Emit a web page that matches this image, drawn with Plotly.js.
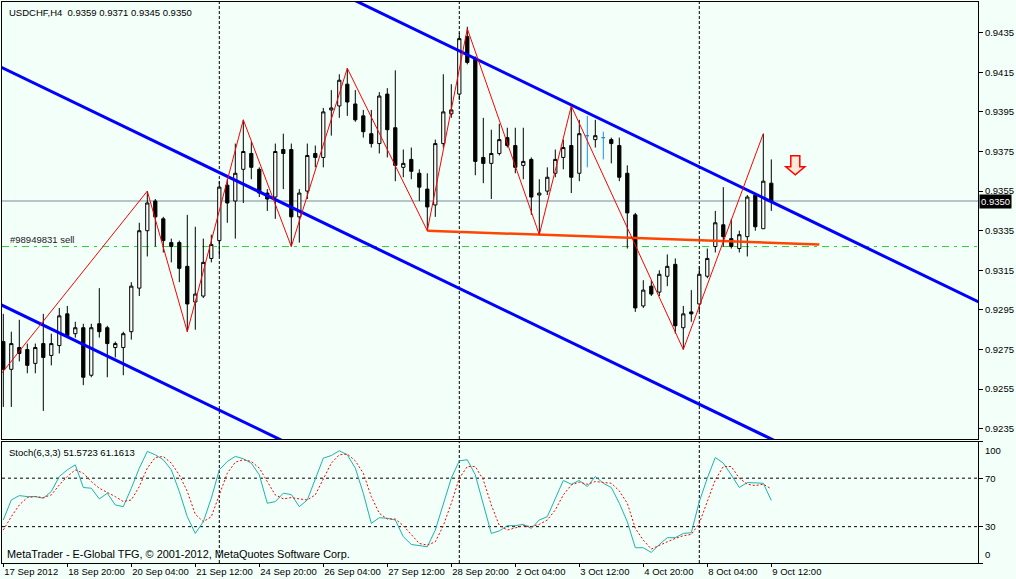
<!DOCTYPE html>
<html><head><meta charset="utf-8">
<script src="https://cdn.plot.ly/plotly-3.0.1.min.js"></script>
<style>html,body{margin:0;padding:0;background:#F3FFF9;}#chart{width:1016px;height:579px;}</style>
</head><body><div id="chart"></div>
<script>
// ---- data ----
const symbol = "USDCHF,H4";
const openP = [.9279,.9265,.9276,.9275,.9268,.9278,.9272,.9277,.9293,.9283,
 .9286,.9262,.9288,.9286,.9276,.9276,.9284,.9306,.9335,.9350,
 .9341,.9329,.9329,.9317,.9299,.9302,.9321,.9330,.9358,.9350,
 .9366,.9374,.9366,.9354,.9352,.9376,.9376,.9342,.9355,.9374,
 .9372,.9396,.9398,.9409,.9399,.9393,.9384,.9379,.9404,.9387,
 .9367,.9371,.9364,.9356,.9348,.9379,.9394,.9404,.9433,.9422,
 .9372,.9369,.9374,.9382,.9378,.9368,.9371,.9353,.9355,.9364,
 .9372,.9378,.9364,.9383,.9381,.9382,.9381,.9378,.9364,.9343,
 .9297,.9307,.9304,.9312,.9318,.9286,.9294,.9298,.9312,.9327,
 .9338,.9331,.9326,.9332,.9353,.9336,.9359];
const highP = [.9293,.9284,.9290,.9278,.9278,.9293,.9283,.9296,.9297,.9289,
 .9288,.9288,.9306,.9287,.9279,.9284,.9309,.9339,.9355,.9351,
 .9342,.9331,.9330,.9343,.9337,.9331,.9333,.9360,.9361,.9379,
 .9391,.9380,.9367,.9356,.9379,.9384,.9379,.9356,.9379,.9378,
 .9397,.9406,.9414,.9417,.9406,.9396,.9396,.9405,.9407,.9416,
 .9376,.9377,.9366,.9364,.9381,.9414,.9409,.9435,.9438,.9423,
 .9392,.9386,.9389,.9387,.9387,.9387,.9372,.9361,.9367,.9376,
 .9381,.9398,.9391,.9393,.9391,.9385,.9382,.9382,.9368,.9344,
 .9310,.9310,.9315,.9323,.9321,.9297,.9305,.9317,.9326,.9345,
 .9357,.9341,.9335,.9353,.9354,.9384,.9371];
const lowP = [.9246,.9246,.9269,.9263,.9263,.9244,.9267,.9273,.9281,.9281,
 .9257,.9261,.9281,.9261,.9271,.9262,.9280,.9302,.9322,.9327,
 .9324,.9319,.9309,.9284,.9285,.9301,.9319,.9322,.9339,.9331,
 .9349,.9361,.9352,.9345,.9341,.9356,.9327,.9329,.9351,.9367,
 .9367,.9383,.9392,.9393,.9390,.9382,.9377,.9374,.9372,.9360,
 .9362,.9361,.9350,.9335,.9342,.9377,.9392,.9401,.9419,.9363,
 .9359,.9351,.9373,.9377,.9364,.9361,.9343,.9333,.9353,.9362,
 .9366,.9354,.9360,.9367,.9377,.9371,.9369,.9360,.9326,.9294,
 .9296,.9302,.9302,.9307,.9283,.9275,.9289,.9294,.9311,.9324,
 .9327,.9326,.9324,.9322,.9335,.9336,.9345];
const closeP = [.9265,.9278,.9273,.9267,.9276,.9271,.9278,.9292,.9282,.9286,
 .9261,.9286,.9284,.9278,.9278,.9283,.9307,.9335,.9349,.9342,
 .9330,.9327,.9316,.9298,.9303,.9319,.9328,.9357,.9349,.9364,
 .9375,.9367,.9354,.9351,.9375,.9374,.9342,.9354,.9373,.9372,
 .9395,.9397,.9411,.9400,.9391,.9385,.9379,.9403,.9386,.9368,
 .9369,.9365,.9357,.9347,.9379,.9395,.9396,.9432,.9420,.9370,
 .9369,.9374,.9381,.9378,.9367,.9370,.9352,.9354,.9362,.9371,
 .9377,.9362,.9384,.9383,.9383,.9382,.9379,.9362,.9344,.9296,
 .9305,.9303,.9313,.9317,.9287,.9293,.9293,.9313,.9321,.9339,
 .9332,.9327,.9333,.9352,.9337,.9360,.9350];
const stochK = [35.5,52,55.6,54.8,54.8,53.4,59,71.4,76.9,81,
 62.3,61.7,52.9,57.6,47.9,46.5,61.7,78.3,92.1,89.3,
 85.2,76.9,59,38.2,24.4,34.1,53.4,76.9,83.8,88,
 86,82.4,72.7,49.3,50.7,57.6,56.5,46.5,52,70,
 86.5,88.7,92.6,89.3,78.3,57.6,32.7,37.4,36.9,35.5,
 21.7,15.3,14.2,13.4,27.2,47.9,70,84.3,85.2,72.7,
 47.9,24.4,26.5,30.8,30.8,31.9,28.6,35.5,38.2,53.4,
 68.1,65,68.1,63.1,71.4,65.8,62.3,49.3,34.1,12.6,
 12.6,8.7,15.3,20.9,20.9,24.4,25,50.7,70,87.1,
 82.4,72.7,62.3,66.4,65.8,65.8,51.5723];
const stochD = [27.2,38.2,47.9,54,54.8,54,56.2,64.4,71.4,76.9,
 74.1,67.2,61.7,58.4,54.8,50.7,52,63.1,78.3,87.1,
 87.9,82.4,72.7,59,40.2,34.1,38.2,56.2,74.1,83.2,
 85.2,83.8,78.3,67.2,56.2,52.9,54,52.9,52,56.2,
 70,82.4,89.3,89.9,84.3,74.1,54.8,41,36.3,36.3,
 30.8,23.1,16.1,14.8,17.5,30.8,49.3,70,79.6,79.6,
 68.6,47.9,31,27.2,29.1,30.8,30,31.9,35.5,43.8,
 56.2,64.4,66.7,65,67.2,66.4,65.8,59.5,49.3,28.6,
 18.9,11.5,14.8,17.5,20.3,22.5,23.6,32.7,50.7,68.6,
 79.6,79.6,70,65,63.9,65,61.1613];
const stochLabel = "Stoch(6,3,3) 51.5723 61.1613";
const tickIdx = [0,8,16,24,32,40,48,56,64,72,80,88,96];
const tickText = ["17 Sep 2012","18 Sep 20:00","20 Sep 04:00","21 Sep 12:00","24 Sep 20:00","26 Sep 04:00","27 Sep 12:00","28 Sep 20:00","2 Oct 04:00","3 Oct 12:00","4 Oct 20:00","8 Oct 04:00","9 Oct 12:00"];
const weekSeparators = [27,57,87];
const priceTicks = [0.9235,0.9255,0.9275,0.9295,0.9315,0.9335,0.9355,0.9375,0.9395,0.9415,0.9435];
const stochTicks = [100,70,30,0];
const stochLevels = [70,30];
const zigzagX = [-1,18,23,30,36,43,53,58,67,71,85,95];
const zigzagY = [0.9259,0.9355,0.9284,0.9391,0.9327,0.9417,0.9335,0.9437,0.9333,0.9398,0.9275,0.9384];
const channelX = [[-1,100],[40,125],[-1,40]];
const channelY = [[0.9419,0.9222],[0.9459,0.9293],[0.9299,0.9219]];
const supportX = [53,102];
const supportY = [0.9335,0.9328];
const orderLabel = "#98949831 sell";
const orderPrice = 0.9327;
const signalX = [99];
const signalY = [0.9368];
const copyright = "MetaTrader - E-Global TFG, \u00A9 2001-2012, MetaQuotes Software Corp.";

// ---- build ----
const FONT = "Tahoma, 'Liberation Sans', Arial, sans-serif";
const BG = "#F3FFF9";
const n = openP.length;
const idx = openP.map((_, i) => i);
const normal = idx.filter(i => openP[i] !== closeP[i]);
const doji = idx.filter(i => openP[i] === closeP[i]);
const pick = (arr, ids) => ids.map(i => arr[i]);
const last = n - 1;
const fmt = v => v.toFixed(4);

const traces = [];
traces.push({
  type: 'candlestick', xaxis: 'x2', yaxis: 'y',
  x: normal, open: pick(openP, normal), high: pick(highP, normal), low: pick(lowP, normal), close: pick(closeP, normal),
  increasing: {line: {color: '#000000', width: 1}, fillcolor: '#FFFFFF'},
  decreasing: {line: {color: '#000000', width: 1}, fillcolor: '#000000'},
  whiskerwidth: 0, hoverinfo: 'skip', showlegend: false
});
traces.push({
  type: 'candlestick', xaxis: 'x2', yaxis: 'y',
  x: doji, open: pick(openP, doji), high: pick(highP, doji), low: pick(lowP, doji), close: pick(closeP, doji),
  increasing: {line: {color: '#1E8FD8', width: 1}, fillcolor: '#1E8FD8'},
  decreasing: {line: {color: '#1E8FD8', width: 1}, fillcolor: '#1E8FD8'},
  whiskerwidth: 0, hoverinfo: 'skip', showlegend: false
});
channelX.forEach((cx, j) => traces.push({
  type: 'scatter', mode: 'lines', xaxis: 'x2', yaxis: 'y', x: cx, y: channelY[j],
  line: {color: '#0000FF', width: 3}, hoverinfo: 'skip', showlegend: false
}));
traces.push({
  type: 'scatter', mode: 'lines', xaxis: 'x2', yaxis: 'y', x: supportX, y: supportY,
  line: {color: '#FF4500', width: 2.5}, hoverinfo: 'skip', showlegend: false
});
traces.push({
  type: 'scatter', mode: 'lines', xaxis: 'x2', yaxis: 'y', x: zigzagX, y: zigzagY,
  line: {color: '#FF0000', width: 1}, hoverinfo: 'skip', showlegend: false
});
traces.push({
  type: 'scatter', mode: 'lines', xaxis: 'x', yaxis: 'y2', x: idx, y: stochK,
  line: {color: '#20B2AA', width: 1}, hoverinfo: 'skip', showlegend: false
});
traces.push({
  type: 'scatter', mode: 'lines', xaxis: 'x', yaxis: 'y2', x: idx, y: stochD,
  line: {color: '#FF0000', width: 1, dash: '2px,2px'}, hoverinfo: 'skip', showlegend: false
});

const shapes = [];
weekSeparators.forEach(s => {
  shapes.push({type: 'line', xref: 'x2', yref: 'y domain', x0: s, x1: s, y0: 0, y1: 1, line: {color: '#000', width: 1, dash: '3px,2px'}, layer: 'below'});
  shapes.push({type: 'line', xref: 'x', yref: 'y2 domain', x0: s, x1: s, y0: 0, y1: 1, line: {color: '#000', width: 1, dash: '3px,2px'}, layer: 'below'});
});
stochLevels.forEach(l => shapes.push({type: 'line', xref: 'paper', yref: 'y2', x0: 0, x1: 1, y0: l, y1: l, line: {color: '#000', width: 1, dash: '3px,3px'}, layer: 'below'}));
shapes.push({type: 'line', xref: 'paper', yref: 'y', x0: 0, x1: 1, y0: closeP[last], y1: closeP[last], line: {color: '#7B8B9B', width: 1}, layer: 'below'});
shapes.push({type: 'line', xref: 'paper', yref: 'y', x0: 0, x1: 1, y0: orderPrice, y1: orderPrice, line: {color: '#32CD32', width: 1, dash: '7px,5px,3px,5px'}, layer: 'below'});
signalX.forEach((sx, j) => shapes.push({
  type: 'path', xref: 'x2', yref: 'y', xsizemode: 'pixel', ysizemode: 'pixel', xanchor: sx, yanchor: signalY[j],
  path: 'M-4.5,9.5 L4.5,9.5 L4.5,-1.5 L9.5,-1.5 L0,-9.5 L-9.5,-1.5 L-4.5,-1.5 Z',
  line: {color: '#FF0000', width: 1.5}, fillcolor: 'rgba(255,225,200,0.7)'
}));

const tf = {family: FONT, size: 9.5, color: '#000'};
const annotations = [
  {xref: 'paper', yref: 'paper', x: 0, y: 1, xanchor: 'left', yanchor: 'top', xshift: 5, yshift: -3, showarrow: false,
   text: symbol + '\u00A0\u00A0' + [openP[last], highP[last], lowP[last], closeP[last]].map(fmt).join(' '), font: tf},
  {xref: 'paper', yref: 'y2 domain', x: 0, y: 1, xanchor: 'left', yanchor: 'top', xshift: 5, yshift: -3, showarrow: false, text: stochLabel, font: tf},
  {xref: 'paper', yref: 'y2 domain', x: 0, y: 0, xanchor: 'left', yanchor: 'bottom', xshift: 3, yshift: 1, showarrow: false, text: copyright, font: {family: FONT, size: 10.9, color: '#000'}},
  {xref: 'paper', yref: 'y', x: 0, y: orderPrice, xanchor: 'left', yanchor: 'bottom', xshift: 6, yshift: 0, showarrow: false, text: orderLabel, font: {family: FONT, size: 9.5, color: '#1a1a1a'}},
  {xref: 'paper', yref: 'y', x: 1, y: closeP[last], xanchor: 'left', yanchor: 'middle', xshift: 1, showarrow: false, text: fmt(closeP[last]), font: {family: FONT, size: 9.5, color: '#FFF'}, bgcolor: '#000', borderpad: 1},
  {xref: 'paper', yref: 'y2 domain', x: 1, y: 1, xanchor: 'left', yanchor: 'top', xshift: 5, yshift: -1, showarrow: false, text: String(stochTicks[0]), font: tf},
  {xref: 'paper', yref: 'y2 domain', x: 1, y: 0, xanchor: 'left', yanchor: 'bottom', xshift: 5, yshift: 1, showarrow: false, text: String(stochTicks[3]), font: tf}
];

const layout = {
  width: 1016, height: 579,
  margin: {l: 2, r: 38, t: 2, b: 16, pad: 0},
  paper_bgcolor: BG, plot_bgcolor: BG,
  font: {family: FONT, size: 9.5, color: '#000'},
  showlegend: false, boxgap: 0.42, boxmode: 'overlay', dragmode: false,
  xaxis: {domain: [0, 1], anchor: 'y2', range: [-0.1625, 121.8375], tickvals: tickIdx, ticktext: tickText, tickangle: 0,
    ticks: 'outside', ticklen: 3, tickcolor: '#000', showline: true, mirror: true, linecolor: '#000', linewidth: 1,
    showgrid: false, zeroline: false, ticklabelposition: 'outside right', tickfont: tf, rangeslider: {visible: false}, fixedrange: true},
  xaxis2: {anchor: 'y', matches: 'x', range: [-0.1625, 121.8375], showticklabels: false, ticks: '', showline: true, mirror: true,
    linecolor: '#000', linewidth: 1, showgrid: false, zeroline: false, rangeslider: {visible: false}, fixedrange: true},
  yaxis: {domain: [0.221, 1], anchor: 'x2', side: 'right', range: [0.92298, 0.94505], tickvals: priceTicks, tickformat: '.4f',
    ticks: 'outside', ticklen: 4, tickcolor: '#000', showline: true, mirror: true, linecolor: '#000', linewidth: 1,
    showgrid: false, zeroline: false, tickfont: tf, fixedrange: true},
  yaxis2: {domain: [0, 0.216], anchor: 'x', side: 'right', range: [0, 100], tickvals: stochTicks, ticktext: stochTicks.map(t => (t === 70 || t === 30) ? String(t) : ''),
    ticks: 'outside', ticklen: 4, tickcolor: '#000', showline: true, mirror: true, linecolor: '#000', linewidth: 1,
    showgrid: false, zeroline: false, tickfont: tf, fixedrange: true},
  shapes: shapes, annotations: annotations
};
Plotly.newPlot('chart', traces, layout, {staticPlot: true, displayModeBar: false});
</script></body></html>
